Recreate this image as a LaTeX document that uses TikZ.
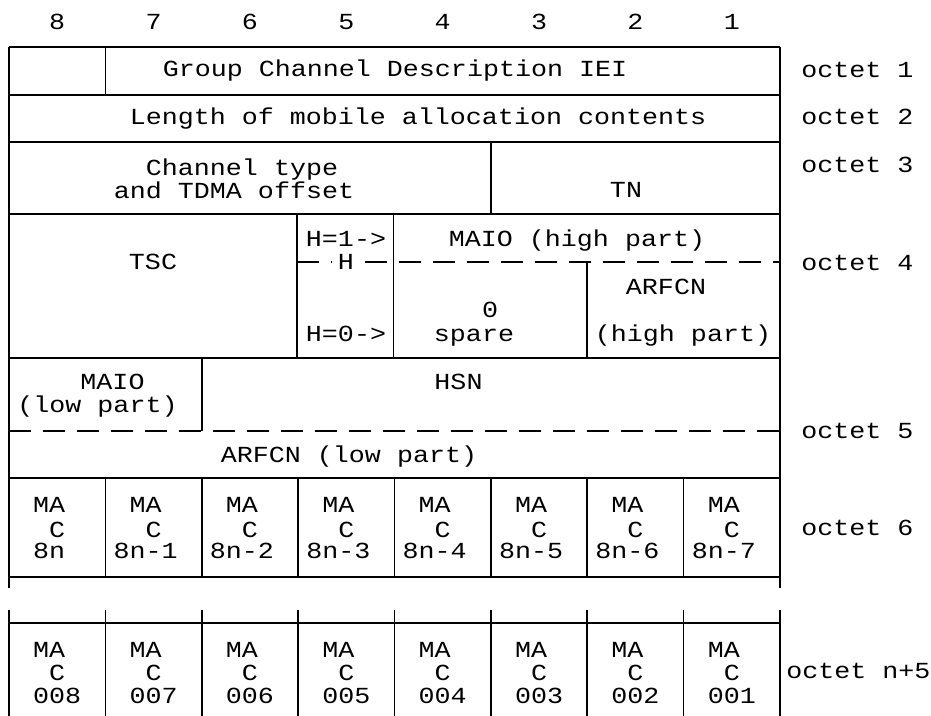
\documentclass[tikz,border=0pt]{standalone}
\usepackage{fontspec}
\setmonofont{Liberation Mono}[FakeStretch=1.16]
\tikzset{
  field/.style={font=\ttfamily\fontsize{11.5}{14}\selectfont, inner sep=0pt, anchor=base},
  octlabel/.style={field, anchor=base west},
  rule/.style={line width=1pt, draw=black},
  sep/.style={line width=0.8pt, draw=black},
  split/.style={line width=1pt, draw=black, dash pattern=on 11pt off 6pt},
}

\begin{document}
\begin{tikzpicture}[x=0.5pt, y=-0.5pt]
  \useasboundingbox (0,0) rectangle (931,716);
  % bit numbers
  \foreach \b [count=\i from 0] in {8,7,...,1}
    \node[field] (bit\b) at ({9+(\i+0.5)*96.375},30) {\b};
  % frame and octet rules
  \draw[rule] (9,47) -- (9,588);
  \draw[rule] (780,47) -- (780,588);
  \foreach \y in {47,95,142,214,358,478,577}
    \draw[rule] (9,\y) -- (780,\y);
  \draw[split] (297,262) -- (780,262);
  \draw[split] (9,431) -- (780,431);
  % field separators
  \draw[sep] (105.4,47) -- (105.4,95);
  \draw[sep] (490.9,142) -- (490.9,214);
  \draw[sep] (297,214) -- (297,358);
  \draw[sep] (393.5,214) -- (393.5,358);
  \draw[sep] (587,262) -- (587,358);
  \draw[sep] (201.8,358) -- (201.8,431);
  \foreach \k in {1,...,7}
    \draw[sep] ({9+\k*96.375},478) -- ({9+\k*96.375},577);
  % last octet
  \draw[rule] (9,623) -- (780,623);
  \foreach \k in {0,...,8}
    \draw[sep] ({9+\k*96.375},610) -- ({9+\k*96.375},716);
  % field names
  \node[field] (iei) at (395,77) {Group Channel Description IEI};
  \node[field] (len) at (418,125) {Length of mobile allocation contents};
  \node[field] (chtype) at (242,176) {Channel type};
  \node[field] (tdma) at (234,199) {and TDMA offset};
  \node[field] (tn) at (626,198) {TN};
  \node[field] (tsc) at (153,270) {TSC};
  \node[field] (hone) at (346,247) {H=1->};
  \node[field, fill=white, inner xsep=3pt] (hbit) at (346,270) {H};
  \node[field] (hzero) at (346,342) {H=0->};
  \node[field] (maiohi) at (577,247) {MAIO (high part)};
  \node[field] (zero) at (490,318) {0};
  \node[field] (spare) at (474,342) {spare};
  \node[field] (arfcnhi) at (666,295) {ARFCN};
  \node[field] (arfcnhipart) at (683,342) {(high part)};
  \node[field] (maiolo) at (112.5,390) {MAIO};
  \node[field] (maiolopart) at (97.5,412) {(low part)};
  \node[field] (hsn) at (458.5,390) {HSN};
  \node[field] (arfcnlo) at (349,462) {ARFCN (low part)};
  % MA C bits
  \foreach \a/\b [count=\i from 0] in {8n/008, 8n-1/007, 8n-2/006, 8n-3/005,
      8n-4/004, 8n-5/003, 8n-6/002, 8n-7/001} {
    \pgfmathsetmacro\cx{9+(\i+0.5)*96.375}
    \node[field] (ma\i) at (\cx-8,512) {MA};
    \node[field] (mc\i) at (\cx,537) {C};
    \node[field] (mn\i) at (\cx-8,558) {\a};
    \node[field] (la\i) at (\cx-8,657) {MA};
    \node[field] (lc\i) at (\cx,680) {C};
    \node[field] (ln\i) at (\cx,703) {\b};
  }
  % octet numbers
  \foreach \y/\l in {78/1, 125/2, 173/3, 271/4, 438/5, 535/6}
    \node[octlabel] (oct\l) at (801,\y) {octet \l};
  \node[octlabel] (octlast) at (786,678) {octet n+5};
\end{tikzpicture}
\end{document}
